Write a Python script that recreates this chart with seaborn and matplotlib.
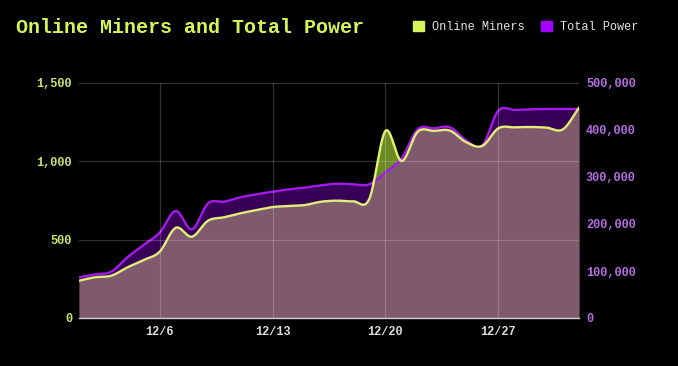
import numpy as np
import pandas as pd
import seaborn as sns
import matplotlib.pyplot as plt
from matplotlib.patches import Patch
from matplotlib.ticker import FuncFormatter

# daily values, 12/1 .. 1/1
days = pd.date_range('2023-12-01', '2024-01-01', freq='D')
miners = [238, 260, 270, 323, 370, 423, 576, 519, 621, 643, 668, 689, 708, 715, 721, 742,
          749, 745, 760, 1194, 1002, 1189, 1194, 1196, 1122, 1098, 1211, 1217, 1219, 1215, 1204, 1342]
power = [86600, 93000, 98500, 129100, 155300, 181500, 227700, 188700, 244000, 247500, 256800,
         263200, 268700, 273800, 277300, 282300, 285800, 284400, 284400, 310000, 339800, 401500,
         403600, 405700, 378000, 367000, 441100, 442600, 444000, 444700, 444700, 444700]
tick_dates = ['2023-12-06', '2023-12-13', '2023-12-20', '2023-12-27']
tick_labels = ['12/6', '12/13', '12/20', '12/27']
miner_ticks = [0, 500, 1000, 1500]
power_ticks = [0, 100000, 200000, 300000, 400000, 500000]

TITLE_C = '#d4f55a'
MINER_LINE = '#e2ee78'
MINER_FILL = '#6c8a22'
POWER_C = '#a500ff'
POWER_LINE = '#a31aea'
MONO = 'Liberation Mono'


def smooth(y, n=24):
    # catmull-rom style curve through the points, only for drawing
    y = np.asarray(y, dtype=float)
    m = np.gradient(y)
    t_out, y_out = [], []
    for i in range(len(y) - 1):
        s = np.linspace(0, 1, n, endpoint=False)
        h00 = 2 * s**3 - 3 * s**2 + 1
        h10 = s**3 - 2 * s**2 + s
        h01 = -2 * s**3 + 3 * s**2
        h11 = s**3 - s**2
        t_out.append(i + s)
        y_out.append(h00 * y[i] + h10 * m[i] + h01 * y[i + 1] + h11 * m[i + 1])
    t_out.append([len(y) - 1])
    y_out.append([y[-1]])
    t = np.concatenate(t_out)
    return days[0] + pd.to_timedelta(t, unit='D'), np.concatenate(y_out)


mx, my = smooth(miners)
px, py = smooth(power)

fig = plt.figure(figsize=(6.78, 3.66), dpi=100, facecolor='black')
pos = [79 / 678, 1 - 318 / 366, 500 / 678, 235 / 366]
ax = fig.add_axes(pos)
ax.set_facecolor('black')
ax2 = ax.twinx()
ax2.patch.set_visible(False)
ax3 = fig.add_axes(pos, sharex=ax, sharey=ax)
ax3.patch.set_visible(False)

# bottom layer: miners area, then translucent power area over it
ax.fill_between(mx, my, 0, color=MINER_FILL, lw=0)
ax2.fill_between(px, py, 0, color=POWER_C, alpha=0.34, lw=0)
sns.lineplot(x=px, y=py, ax=ax2, color=POWER_LINE, lw=1.7, sort=False)

# top layer: grid and miners line
sns.lineplot(x=mx, y=my, ax=ax3, color=MINER_LINE, lw=1.7, sort=False)
ax3.grid(True, color='white', alpha=0.2, lw=0.9)
ax3.set_axisbelow(True)

ax.set_xlim(days[0], days[-1])
ax.set_ylim(0, 1500)
ax2.set_ylim(0, 500000)
ax.set_xticks(pd.to_datetime(tick_dates))
ax.set_xticklabels(tick_labels)
ax.set_yticks(miner_ticks)
ax2.set_yticks(power_ticks)
fmt = FuncFormatter(lambda v, p: '{:,.0f}'.format(v))
ax.yaxis.set_major_formatter(fmt)
ax2.yaxis.set_major_formatter(fmt)

for a in (ax, ax2, ax3):
    for s in a.spines.values():
        s.set_visible(False)
    a.set_xlabel('')
    a.set_ylabel('')
ax3.spines['bottom'].set_visible(True)
ax3.spines['bottom'].set_color('#d0d0d0')
ax3.spines['bottom'].set_linewidth(1.0)
ax3.tick_params(labelbottom=False, labelleft=False, length=0)

ax.tick_params(axis='x', length=0, pad=6, colors='#dddddd', labelsize=8.6)
ax.tick_params(axis='y', length=0, pad=5, colors='#c9e66e', labelsize=8.6)
ax2.tick_params(axis='y', length=0, pad=5, colors='#b46ee0', labelsize=8.6)
for lab in ax.get_xticklabels() + ax.get_yticklabels() + ax2.get_yticklabels():
    lab.set_family(MONO)
    lab.set_fontweight('bold')

fig.text(16 / 678, 1 - 27.5 / 366, 'Online Miners and Total Power', color=TITLE_C,
         fontsize=14.45, fontweight='bold', family=MONO, va='center', ha='left')

handles = [Patch(color=TITLE_C, label='Online Miners'), Patch(color=POWER_C, label='Total Power')]
fig.legend(handles=handles, loc='center left', bbox_to_anchor=(413 / 678, 1 - 27 / 366), ncol=2,
           frameon=False, handlelength=0.9, handleheight=0.9, handletextpad=0.65,
           columnspacing=1.45, borderpad=0, borderaxespad=0, labelcolor='#e6e6e6',
           prop={'family': MONO, 'size': 8.6})

fig.savefig('out.png', dpi=100, facecolor='black')
